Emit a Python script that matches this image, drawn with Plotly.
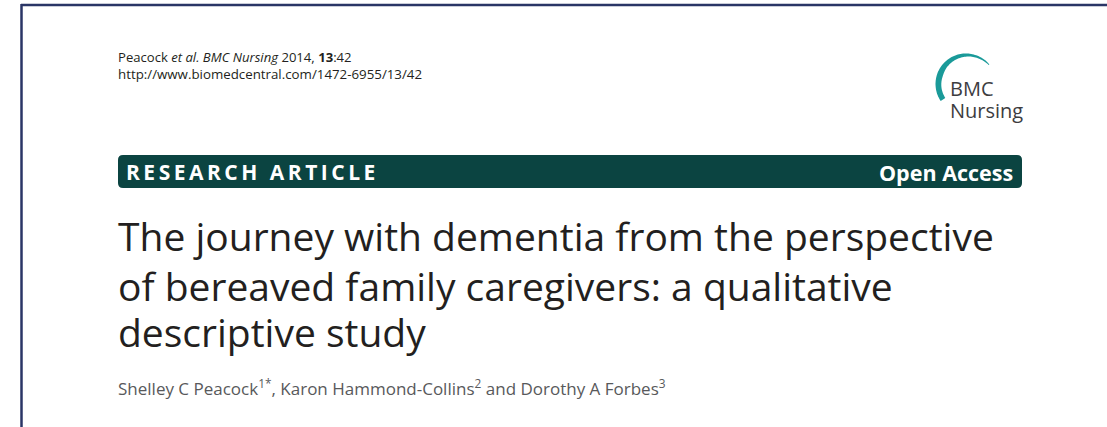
import numpy as np
import plotly.graph_objects as go

W, H = 1107, 427

# ---- text content ----
header_lines = [
    "Peacock <i>et al. BMC Nursing</i> 2014, <b>13</b>:42",
    "http://www.biomedcentral.com/1472-6955/13/42",
]
logo_lines = ["BMC", "Nursing"]
banner_left = "RESEARCH ARTICLE"
banner_right = "Open Access"
title_lines = [
    "The journey with dementia from the perspective",
    "of bereaved family caregivers: a qualitative",
    "descriptive study",
]
authors = ("Shelley C Peacock<sup>1*</sup>, Karon Hammond-Collins<sup>2</sup> "
           "and Dorothy A Forbes<sup>3</sup>")

FONT = "Open Sans"
DARK = "#231f20"
TEAL_DARK = "#0b4441"
TEAL = "#1a9a99"
NAVY = "#2a3566"

fig = go.Figure()
shapes = []
annotations = []

# page border (top and left)
shapes.append(dict(type="line", xref="x", yref="y", x0=21, y0=5, x1=W + 20, y1=5,
                   line=dict(color=NAVY, width=2.5)))
shapes.append(dict(type="line", xref="x", yref="y", x0=21.5, y0=4, x1=21.5, y1=H + 20,
                   line=dict(color=NAVY, width=2.5)))

# banner (rounded rectangle)
bx0, bx1, by0, by1, r = 118, 1022, 155, 188, 5
banner_path = (f"M {bx0+r},{by0} L {bx1-r},{by0} Q {bx1},{by0} {bx1},{by0+r} "
               f"L {bx1},{by1-r} Q {bx1},{by1} {bx1-r},{by1} L {bx0+r},{by1} "
               f"Q {bx0},{by1} {bx0},{by1-r} L {bx0},{by0+r} Q {bx0},{by0} {bx0+r},{by0} Z")
shapes.append(dict(type="path", xref="x", yref="y", path=banner_path,
                   fillcolor=TEAL_DARK, line=dict(width=0)))

# logo arc (crescent), screen coordinates with y downward
cx, cy = 966, 84
theta = np.radians(np.linspace(146, 320, 70))
outer_r = 30.5
thick = np.interp(np.degrees(theta), [146, 200, 250, 320], [5.5, 6.0, 4.0, 1.0])
ox = cx + outer_r * np.cos(theta)
oy = cy + outer_r * np.sin(theta)
ix = cx + (outer_r - thick) * np.cos(theta)
iy = cy + (outer_r - thick) * np.sin(theta)
pts = list(zip(ox, oy)) + list(zip(ix[::-1], iy[::-1]))
arc_path = "M " + " L ".join(f"{x:.1f},{y:.1f}" for x, y in pts) + " Z"
shapes.append(dict(type="path", xref="x", yref="y", path=arc_path,
                   fillcolor=TEAL, line=dict(width=0)))


def add_text(text, x, y, size, color=DARK, xanchor="left", family=FONT, weight=None):
    f = dict(family=family, size=size, color=color)
    if weight:
        f["weight"] = weight
    annotations.append(dict(text=text, x=x, y=y, xref="x", yref="y",
                            xanchor=xanchor, yanchor="middle", showarrow=False,
                            font=f, align=xanchor if xanchor != "center" else "center",
                            borderpad=0))


add_text(header_lines[0], 117, 57, 13.1)
add_text(header_lines[1], 117, 74, 13.3)
add_text(logo_lines[0], 949, 88, 20, color="#3d3d3f")
add_text(logo_lines[1], 949, 110, 20, color="#3d3d3f")

spaced = "\u2006".join(list(banner_left))
add_text(spaced, 125, 172, 21, color="white", weight=700)
add_text(banner_right, 1014, 172, 21.5, color="white", xanchor="right", weight=700)

for txt, yy in zip(title_lines, [235, 285, 331]):
    add_text(txt, 117, yy, 39)

add_text(authors, 117, 387, 17, color="#58595b")

fig.update_layout(
    width=W, height=H,
    margin=dict(l=0, r=0, t=0, b=0),
    paper_bgcolor="white", plot_bgcolor="white",
    xaxis=dict(range=[0, W], visible=False, fixedrange=True),
    yaxis=dict(range=[H, 0], visible=False, fixedrange=True),
    shapes=shapes, annotations=annotations, showlegend=False,
)
fig.write_html("out.html", config={"displayModeBar": False},
               post_script="document.body.style.margin='0px';"
                           "document.body.style.overflow='hidden';")
